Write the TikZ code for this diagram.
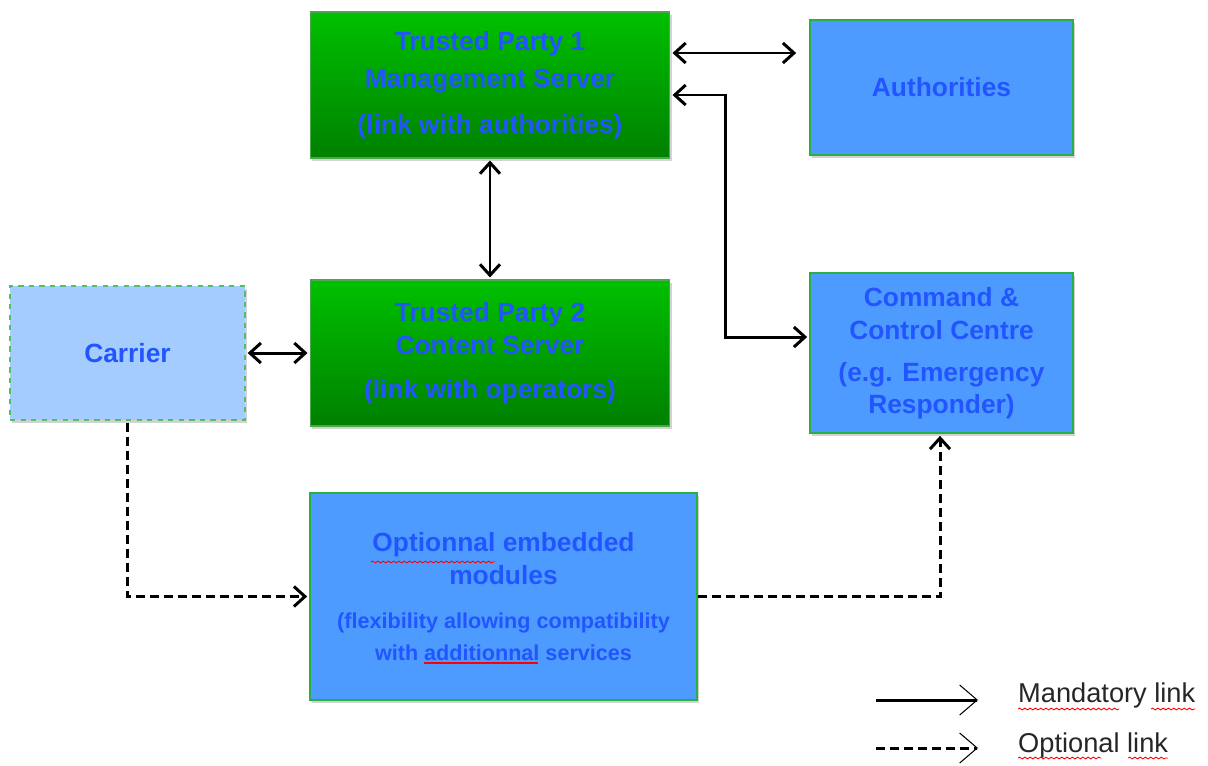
\documentclass[tikz,border=0pt]{standalone}
\usepackage{fontspec}
\setmainfont{Liberation Sans}
\usetikzlibrary{arrows.meta,calc,shadows,decorations.pathmorphing}
\definecolor{tpgreen}{RGB}{0,192,0}
\definecolor{tpdark}{RGB}{0,128,0}
\definecolor{boxblue}{RGB}{77,155,255}
\definecolor{carblue}{RGB}{164,204,255}
\definecolor{txtblue}{RGB}{35,85,255}
\definecolor{edge}{RGB}{40,175,70}
\tikzset{
  shad/.style={drop shadow={shadow xshift=1pt,shadow yshift=-1.5pt,opacity=0.35}},
  green box/.style={shad,draw=tpdark!70!white,line width=0.6pt,top color=tpgreen,bottom color=tpdark,
    text=txtblue,font=\fontsize{15}{17}\selectfont\bfseries,align=center,inner sep=0pt},
  blue box/.style={shad,draw=edge,line width=1pt,fill=boxblue,
    text=txtblue,font=\fontsize{15}{17}\selectfont\bfseries,align=center,inner sep=0pt},
  link/.style={line width=1.7pt,{Straight Barb[length=2.2mm,width=4mm]}-{Straight Barb[length=2.2mm,width=4mm]}},
  oplink/.style={line width=1.7pt,dash pattern=on 0.18cm off 0.1cm,-{Straight Barb[length=2.2mm,width=4mm]}},
  legend/.style={font=\fontsize{15.5}{17}\selectfont,text=black!85,anchor=west},
  spell/.style={red,line width=0.5pt,decorate,decoration={snake,amplitude=0.5pt,segment length=3pt}}
}
\begin{document}
\begin{tikzpicture}[x=0.02cm,y=-0.02cm]
      \useasboundingbox (0,0) rectangle (1208,765);
      %boxes
      \node[green box,minimum width=7.2cm,minimum height=2.92cm] (tp1) at (490,85)
        {Trusted Party 1\\[4pt]Management Server\\[9pt](link with authorities)};
      \node[blue box,minimum width=5.26cm,minimum height=2.7cm] (auth) at (941.5,87.5) {Authorities};
      \node[green box,minimum width=7.2cm,minimum height=2.92cm] (tp2) at (490,353)
        {Trusted Party 2\\[2pt]Content Server\\[8pt](link with operators)};
      \node[blue box,draw=edge!80!white,dashed,line width=0.8pt,fill=carblue,minimum width=4.7cm,minimum height=2.68cm] (carrier) at (127.5,353) {Carrier};
      \node[blue box,minimum width=5.26cm,minimum height=3.2cm] (cmd) at (941.5,353)
        {Command \&\\[2pt]Control Centre\\[7pt](e.g. Emergency\\[1pt]Responder)};
      \node[blue box,minimum width=7.74cm,minimum height=4.14cm] (opt) at (503.5,596.5)
        {Optionnal embedded\\[2pt]modules\\[8pt]{\fontsize{12.3}{14}\selectfont (flexibility allowing compatibility}\\[1pt]{\fontsize{12.3}{14}\selectfont with additionnal services}};
      %mandatory links
      \draw[link] ($(tp1.east)+(2,-32)$) -- ($(auth.west)+(-13,-34.5)$);
      \draw[link] ($(tp1.east)+(2,10)$) -- ++(53,0) |- ($(cmd.west)+(-2,-16)$);
      \draw[link] ($(tp1.south)+(0,2)$) -- ($(tp2.north)+(0,-2)$);
      \draw[link] ($(carrier.east)+(2,0)$) -- ($(tp2.west)+(-2,0)$);
      %optional links
      \draw[oplink] ($(carrier.south)+(0,2)$) |- ($(opt.west)+(-2,0)$);
      \draw[oplink] (opt.east) -| ($(cmd.south)+(-1.5,2)$);
      %legend
      \coordinate (m1) at (876,700);
      \coordinate (m2) at (978,700);
      \coordinate (o1) at (876,748);
      \coordinate (o2) at (978,748);
      \draw[line width=1.7pt,-{Straight Barb[length=3.5mm,width=6mm,line width=0.6pt]}] (m1) -- (m2);
      \draw[line width=1.7pt,dash pattern=on 0.18cm off 0.1cm,-{Straight Barb[length=3.5mm,width=6mm,line width=0.6pt]}] (o1) -- (o2);
      \node[legend] (mand) at (1012,695) {Mandatory link};
      \node[legend] (optl) at (1012,745) {Optional link};
      %spell marks
      \draw[spell] (1018,709) -- (1119,709);
      \draw[spell] (1151,709) -- (1195,709);
      \draw[spell] (1018,758) -- (1101,758);
      \draw[spell] (1128,758) -- (1168,758);
      \draw[spell] (371,562) -- (495,562);
      \draw[red,line width=0.8pt] (424,663) -- (538,663);
    \end{tikzpicture}
\end{document}
